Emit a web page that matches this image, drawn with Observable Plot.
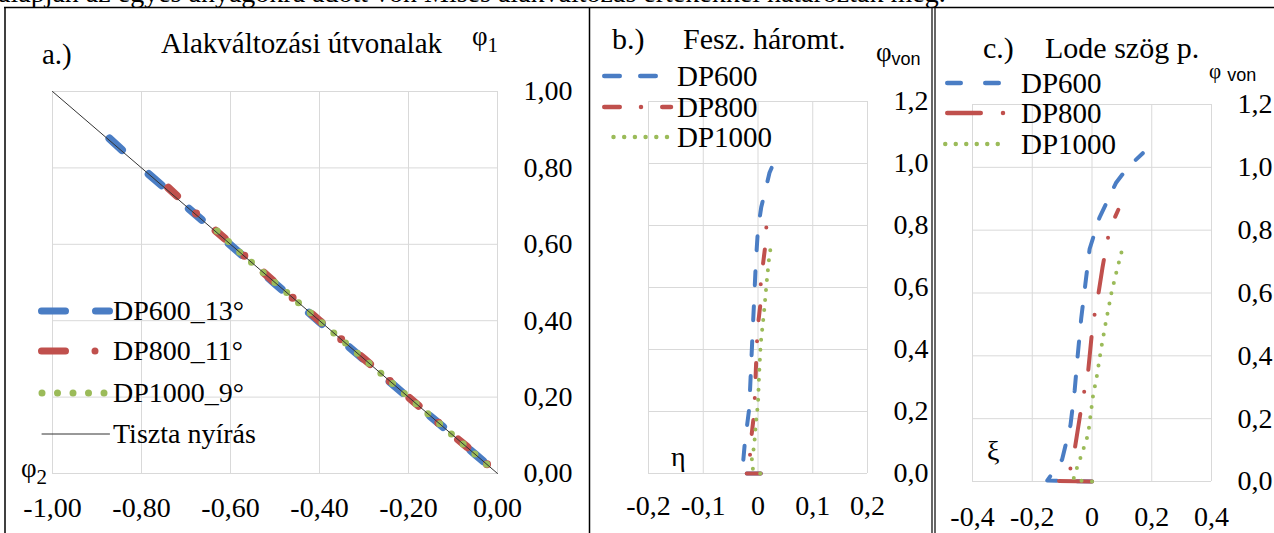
<!DOCTYPE html>
<html><head><meta charset="utf-8">
<script src="https://cdn.jsdelivr.net/npm/d3@7"></script>
<script src="https://cdn.jsdelivr.net/npm/@observablehq/plot@0.6"></script>
<style>
body{margin:0;background:#fff;}
#wrap{position:relative;width:1274px;height:533px;overflow:hidden;background:#fff;font-family:"Liberation Serif","Times New Roman",serif;}
#overlay{position:absolute;left:0;top:0;pointer-events:none;}
</style></head><body><div id="wrap"></div>
<script>
// ---------- colours ----------
const BLUE = "#4a7dc4", RED = "#c0504d", GREEN = "#9bbb59", GRID = "#d9d9d9";

// ---------- panel a: strain paths (phi2 -> x, phi1 -> y), listed from the end of the path ----------
const a600_phi2  = [-0.872, -0.80, -0.70, -0.60, -0.50, -0.40, -0.30, -0.20, -0.10, -0.05, 0];
const a600_phi1  = [0.877, 0.800, 0.700, 0.598, 0.497, 0.397, 0.298, 0.198, 0.100, 0.050, 0];
const a800_phi2  = [-0.74, -0.68, -0.60, -0.50, -0.40, -0.30, -0.20, -0.10, -0.05, 0];
const a800_phi1  = [0.748, 0.683, 0.602, 0.500, 0.400, 0.300, 0.200, 0.100, 0.052, 0];
const a1000_phi2 = [-0.63, -0.58, -0.50, -0.40, -0.30, -0.20, -0.10, -0.05, 0];
const a1000_phi1 = [0.635, 0.580, 0.500, 0.400, 0.300, 0.200, 0.100, 0.050, 0];
const shear_phi2 = [-1, 0];
const shear_phi1 = [1, 0];
const aXTicks = [-1, -0.8, -0.6, -0.4, -0.2, 0];
const aYTicks = [0, 0.2, 0.4, 0.6, 0.8, 1.0];
const aLegend = ["DP600_13°", "DP800_11°", "DP1000_9°", "Tiszta nyírás"];

// ---------- panel b: stress triaxiality eta vs phi_von ----------
const b600_eta  = [0.005, -0.033, -0.027, -0.024, -0.016, -0.013, -0.010, -0.007, -0.004, 0.000, 0.006, 0.013, 0.021, 0.033];
const b600_phi  = [0, 0, 0.04, 0.10, 0.21, 0.33, 0.45, 0.56, 0.68, 0.79, 0.86, 0.91, 0.97, 1.02];
const b800_eta  = [0.005, -0.025, -0.015, -0.012, -0.008, -0.006, -0.004, -0.002, 0.000, 0.004, 0.005, 0.008, 0.013, 0.015, 0.019];
const b800_phi  = [0, 0, 0.05, 0.12, 0.18, 0.24, 0.33, 0.42, 0.48, 0.54, 0.61, 0.66, 0.73, 0.79, 0.86];
const b1000_eta = [0.004, -0.004, -0.013, -0.007, -0.004, 0.000, 0.002, 0.005, 0.011, 0.016, 0.020, 0.024];
const b1000_phi = [0, 0, 0.026, 0.09, 0.16, 0.226, 0.32, 0.42, 0.52, 0.62, 0.69, 0.74];
const bXTicks = [-0.2, -0.1, 0, 0.1, 0.2];
const bYTicks = [0, 0.2, 0.4, 0.6, 0.8, 1.0, 1.2];
const bLegend = ["DP600", "DP800", "DP1000"];

// ---------- panel c: Lode parameter xi vs phi_von ----------
const c600_xi   = [0, -0.15, -0.10, -0.072, -0.058, -0.048, -0.036, -0.022, -0.008, 0.025, 0.080, 0.120, 0.170];
const c600_phi  = [0, 0.003, 0.07, 0.18, 0.29, 0.40, 0.52, 0.63, 0.74, 0.84, 0.95, 1.00, 1.045];
const c800_xi   = [0, -0.12, -0.075, -0.060, -0.030, -0.015, 0.003, 0.017, 0.035, 0.047, 0.060, 0.088];
const c800_phi  = [0, 0.002, 0.03, 0.09, 0.27, 0.33, 0.505, 0.57, 0.68, 0.745, 0.805, 0.865];
const c1000_xi  = [0, -0.063, -0.050, -0.035, -0.013, 0.003, 0.017, 0.030, 0.045, 0.065, 0.080, 0.100];
const c1000_phi = [0, 0.005, 0.045, 0.085, 0.15, 0.27, 0.34, 0.42, 0.50, 0.60, 0.66, 0.735];
const cXTicks = [-0.4, -0.2, 0, 0.2, 0.4];
const cYTicks = [0, 0.2, 0.4, 0.6, 0.8, 1.0, 1.2];
const cLegend = ["DP600", "DP800", "DP1000"];

// ---------- helpers ----------
const fmt2 = d => d.toFixed(2).replace(".", ",");
const fmt1 = d => d.toFixed(1).replace(".", ",");
const fmt1z = d => (d === 0 ? "0" : fmt1(d));
const pts = (xs, ys) => xs.map((x, i) => ({x, y: ys[i]}));
const ln = (xs, ys, o) => Plot.line(pts(xs, ys), {x: "x", y: "y", strokeLinecap: "round", strokeLinejoin: "round", ...o});
const baseStyle = {fontFamily: "'Liberation Serif','Times New Roman',serif", fontSize: "28px", color: "#000", background: "transparent", overflow: "visible"};

function panel(opts) {
  const el = Plot.plot({
    width: opts.width, height: 533,
    marginLeft: opts.ml, marginRight: opts.mr, marginTop: opts.mt, marginBottom: opts.mb,
    x: {domain: opts.xd}, y: {domain: opts.yd},
    style: baseStyle,
    marks: [
      Plot.gridX(opts.xt, {stroke: GRID, strokeOpacity: 1, strokeWidth: 1}),
      Plot.gridY(opts.yt, {stroke: GRID, strokeOpacity: 1, strokeWidth: 1}),
      Plot.axisX({ticks: opts.xt, tickSize: 0, tickPadding: opts.xpad, tickFormat: opts.xf, label: null}),
      Plot.axisY({anchor: "right", ticks: opts.yt, tickSize: 0, tickPadding: 26, tickFormat: opts.yf, label: null}),
      ...opts.lines
    ]
  });
  el.style.position = "absolute";
  el.style.left = opts.left + "px";
  el.style.top = "0px";
  document.getElementById("wrap").appendChild(el);
}

// panel a
panel({
  left: 0, width: 590, ml: 52, mr: 93, mt: 91, mb: 60,
  xd: [-1, 0], yd: [0, 1], xt: aXTicks, yt: aYTicks, xf: fmt2, yf: fmt2, xpad: 24,
  lines: [
    ln(a600_phi2, a600_phi1, {stroke: BLUE, strokeWidth: 8, strokeDasharray: "17,36"}),
    ln(a800_phi2, a800_phi1, {stroke: RED, strokeWidth: 8, strokeDasharray: "12,26,0,26"}),
    ln(a1000_phi2, a1000_phi1, {stroke: GREEN, strokeWidth: 7, strokeDasharray: "0,15.5"}),
    ln(shear_phi2, shear_phi1, {stroke: "#333", strokeWidth: 1})
  ]
});

// panel b
panel({
  left: 590, width: 342, ml: 58, mr: 65, mt: 101, mb: 60,
  xd: [-0.2, 0.2], yd: [0, 1.2], xt: bXTicks, yt: bYTicks, xf: fmt1z, yf: fmt1, xpad: 22,
  lines: [
    ln(b600_eta, b600_phi, {stroke: BLUE, strokeWidth: 4, strokeDasharray: "14,21"}),
    ln(b800_eta, b800_phi, {stroke: RED, strokeWidth: 4, strokeDasharray: "14,22,0,21"}),
    ln(b1000_eta, b1000_phi, {stroke: GREEN, strokeWidth: 4, strokeDasharray: "0,10"})
  ]
});

// panel c
panel({
  left: 935, width: 339, ml: 37, mr: 63, mt: 104, mb: 52,
  xd: [-0.4, 0.4], yd: [0, 1.2], xt: cXTicks, yt: cYTicks, xf: fmt1z, yf: fmt1, xpad: 25,
  lines: [
    ln(c600_xi, c600_phi, {stroke: BLUE, strokeWidth: 4, strokeDasharray: "15,20"}),
    ln(c800_xi, c800_phi, {stroke: RED, strokeWidth: 4, strokeDasharray: "33,22.5,0,22.5"}),
    ln(c1000_xi, c1000_phi, {stroke: GREEN, strokeWidth: 4, strokeDasharray: "0,10.5"})
  ]
});

// ---------- overlay: borders, titles, axis symbols, legends ----------
const S = "'Liberation Serif','Times New Roman',serif";
const SS = "'Liberation Sans',Arial,sans-serif";
function legendRows(items, y0, x1, x2, tx, size, specs) {
  return items.map((t, i) => {
    const s = specs[i], y = y0[i];
    return `<line x1="${x1 + (s.off || 0)}" x2="${s.x2 || x2}" y1="${y}" y2="${y}" stroke="${s.c}" stroke-width="${s.w}" stroke-linecap="round" ${s.d ? `stroke-dasharray="${s.d}"` : ""}/>` +
      `<text x="${tx}" y="${y}" dy="0.33em" font-size="${size}">${t}</text>`;
  }).join("");
}
const ov = `
<svg id="overlay" width="1274" height="533" font-family="${S}" fill="#000">
  <text x="-2" y="2" font-size="28">alapján az egyes anyagokra adott von Mises alakváltozás értékekkel határozták meg.</text>
  <line x1="4" x2="1274" y1="7.5" y2="7.5" stroke="#000" stroke-width="1.5"/>
  <line x1="5" x2="5" y1="7" y2="533" stroke="#000" stroke-width="1.5"/>
  <line x1="589.5" x2="589.5" y1="7" y2="533" stroke="#000" stroke-width="1.5"/>
  <line x1="932" x2="932" y1="7" y2="533" stroke="#000" stroke-width="1.2"/>
  <line x1="935" x2="935" y1="7" y2="533" stroke="#000" stroke-width="1.2"/>

  <text x="42" y="64" font-size="29">a.)</text>
  <text x="161" y="53" font-size="29">Alakváltozási útvonalak</text>
  <text x="472" y="45" font-size="27">φ<tspan font-size="21" dy="7">1</tspan></text>
  <text x="21" y="477" font-size="27">φ<tspan font-size="21" dy="7">2</tspan></text>
  ${legendRows(aLegend, [311, 351, 393, 434], 41.5, 109.5, 113, 28, [
    {c: BLUE, w: 7, d: "24,30"},
    {c: RED, w: 7, d: "24,29.5,0,40"},
    {c: GREEN, w: 7, d: "0,15.5", off: 0.5, x2: 104.5},
    {c: "#333", w: 1, off: 0.5}
  ])}

  <text x="612" y="49" font-size="30">b.)</text>
  <text x="683" y="49" font-size="30">Fesz. háromt.</text>
  <text x="876" y="61" font-size="27">φ<tspan font-family="${SS}" font-size="18" dy="4">von</tspan></text>
  <text x="671" y="466" font-size="28">η</text>
  ${legendRows(bLegend, [76, 107, 137], 604.25, 668, 677, 29, [
    {c: BLUE, w: 4.5, d: "15.5,20.5"},
    {c: RED, w: 4.5, d: "15.5,21.25,0,21.25", x2: 671},
    {c: GREEN, w: 4.5, d: "0,10.7", off: 9.25, x2: 667.5}
  ])}

  <text x="983" y="58" font-size="30">c.)</text>
  <text x="1045" y="58" font-size="30">Lode szög p.</text>
  <text x="1209" y="78" font-size="21">φ<tspan font-family="${SS}" font-size="18" dx="6" dy="3">von</tspan></text>
  <text x="987" y="460" font-size="28">ξ</text>
  ${legendRows(cLegend, [83, 113, 144], 947.25, 1001, 1021, 29, [
    {c: BLUE, w: 4.5, d: "13.5,24.5"},
    {c: RED, w: 4.5, d: "33.5,22.25,0,40", x2: 1004},
    {c: GREEN, w: 4.5, d: "0,10.5", off: -2, x2: 1008}
  ])}
</svg>`;
document.getElementById("wrap").insertAdjacentHTML("beforeend", ov);
</script></body></html>
